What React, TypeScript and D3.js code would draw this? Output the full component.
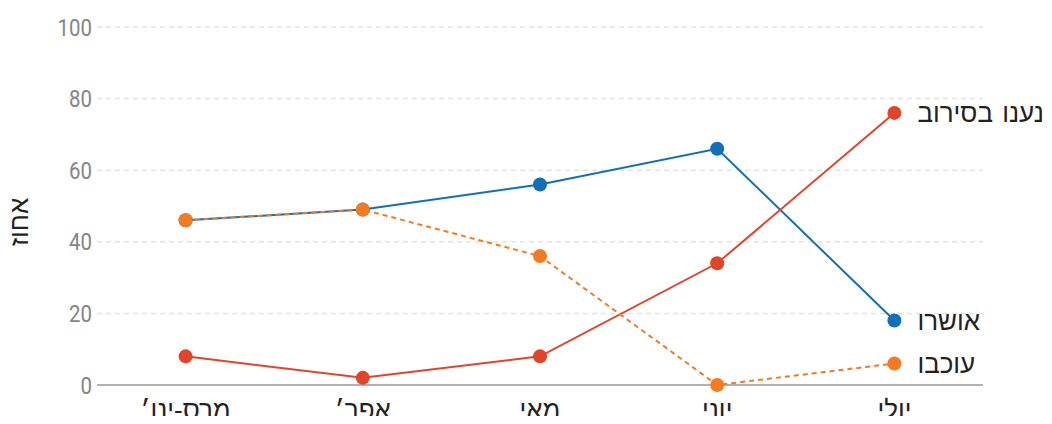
import React, { useEffect, useRef } from 'react';
import * as d3 from 'd3';

// חודשים
const months = ['מרס-ינו׳', 'אפר׳', 'מאי', 'יוני', 'יולי'];
const yTicks = [0, 20, 40, 60, 80, 100];

// סדרות
const approved = [46, 49, 56, 66, 18];
const rejected = [8, 2, 8, 34, 76];
const delayed = [46, 49, 36, 0, 6];

const seriesNames = ['אושרו', 'נענו בסירוב', 'עוכבו'];

const W = 1052;
const H = 424;

export default function App() {
  const svgRef = useRef<SVGSVGElement>(null);

  useEffect(() => {
    if (!svgRef.current) return;
    const svg = d3.select(svgRef.current);
    svg.selectAll('*').remove();

    const left = 97;
    const right = 983;
    const top = 27;
    const bottom = 385;
    const hebFont = "'Liberation Sans', 'DejaVu Sans', sans-serif";

    const x = d3.scalePoint<string>().domain(months).range([left, right]).padding(0.5);
    const y = d3.scaleLinear().domain([0, 100]).range([bottom, top]);

    // רשת
    svg.append('g')
      .selectAll('line')
      .data(yTicks.filter(t => t > 0))
      .join('line')
      .attr('x1', left)
      .attr('x2', right)
      .attr('y1', d => y(d))
      .attr('y2', d => y(d))
      .attr('stroke', '#e3e3e3')
      .attr('stroke-width', 1.5)
      .attr('stroke-dasharray', '5,4');

    svg.append('line')
      .attr('x1', left)
      .attr('x2', right)
      .attr('y1', y(0))
      .attr('y2', y(0))
      .attr('stroke', '#999')
      .attr('stroke-width', 1.5);

    // תוויות ציר y (גופן צר)
    svg.append('g')
      .selectAll('text')
      .data(yTicks)
      .join('text')
      .attr('transform', d => `translate(92,${y(d)}) scale(0.85,1)`)
      .attr('dy', '0.36em')
      .attr('text-anchor', 'end')
      .attr('fill', '#858585')
      .style('font-family', "'Roboto', sans-serif")
      .style('font-size', '24px')
      .text(d => d);

    // כותרת ציר y
    svg.append('text')
      .attr('transform', `translate(28,${(top + bottom) / 2 + 16}) rotate(-90)`)
      .attr('text-anchor', 'middle')
      .attr('fill', '#222')
      .style('font-family', hebFont)
      .style('font-size', '26px')
      .text('אחוז');

    // תוויות ציר x
    svg.append('g')
      .selectAll('text')
      .data(months)
      .join('text')
      .attr('x', d => x(d)!)
      .attr('y', 419)
      .attr('text-anchor', 'middle')
      .attr('fill', '#222')
      .style('font-family', hebFont)
      .style('font-size', '26px')
      .text(d => d);

    const line = d3.line<number>()
      .x((_, i) => x(months[i])!)
      .y(d => y(d));

    const series = [
      { name: seriesNames[0], values: approved, color: '#1070b8', dash: null as string | null },
      { name: seriesNames[1], values: rejected, color: '#e0452a', dash: null as string | null },
      { name: seriesNames[2], values: delayed, color: '#f47b20', dash: '5,4' },
    ];

    series.forEach(s => {
      svg.append('path')
        .datum(s.values)
        .attr('fill', 'none')
        .attr('stroke', s.color)
        .attr('stroke-width', 2)
        .attr('stroke-dasharray', s.dash)
        .attr('d', line);
    });

    series.forEach(s => {
      svg.append('g')
        .selectAll('circle')
        .data(s.values)
        .join('circle')
        .attr('cx', (_, i) => x(months[i])!)
        .attr('cy', d => y(d))
        .attr('r', 7)
        .attr('fill', s.color);

      const last = s.values[s.values.length - 1];
      svg.append('text')
        .attr('x', x(months[months.length - 1])! + 23)
        .attr('y', y(last))
        .attr('dy', '0.35em')
        .attr('text-anchor', 'start')
        .attr('fill', '#222')
        .style('font-family', hebFont)
        .style('font-size', '26px')
        .style('word-spacing', '2px')
        .text(s.name);
    });
  }, []);

  return <svg ref={svgRef} width={W} height={H} style={{ display: 'block', margin: '-8px' }} />;
}
